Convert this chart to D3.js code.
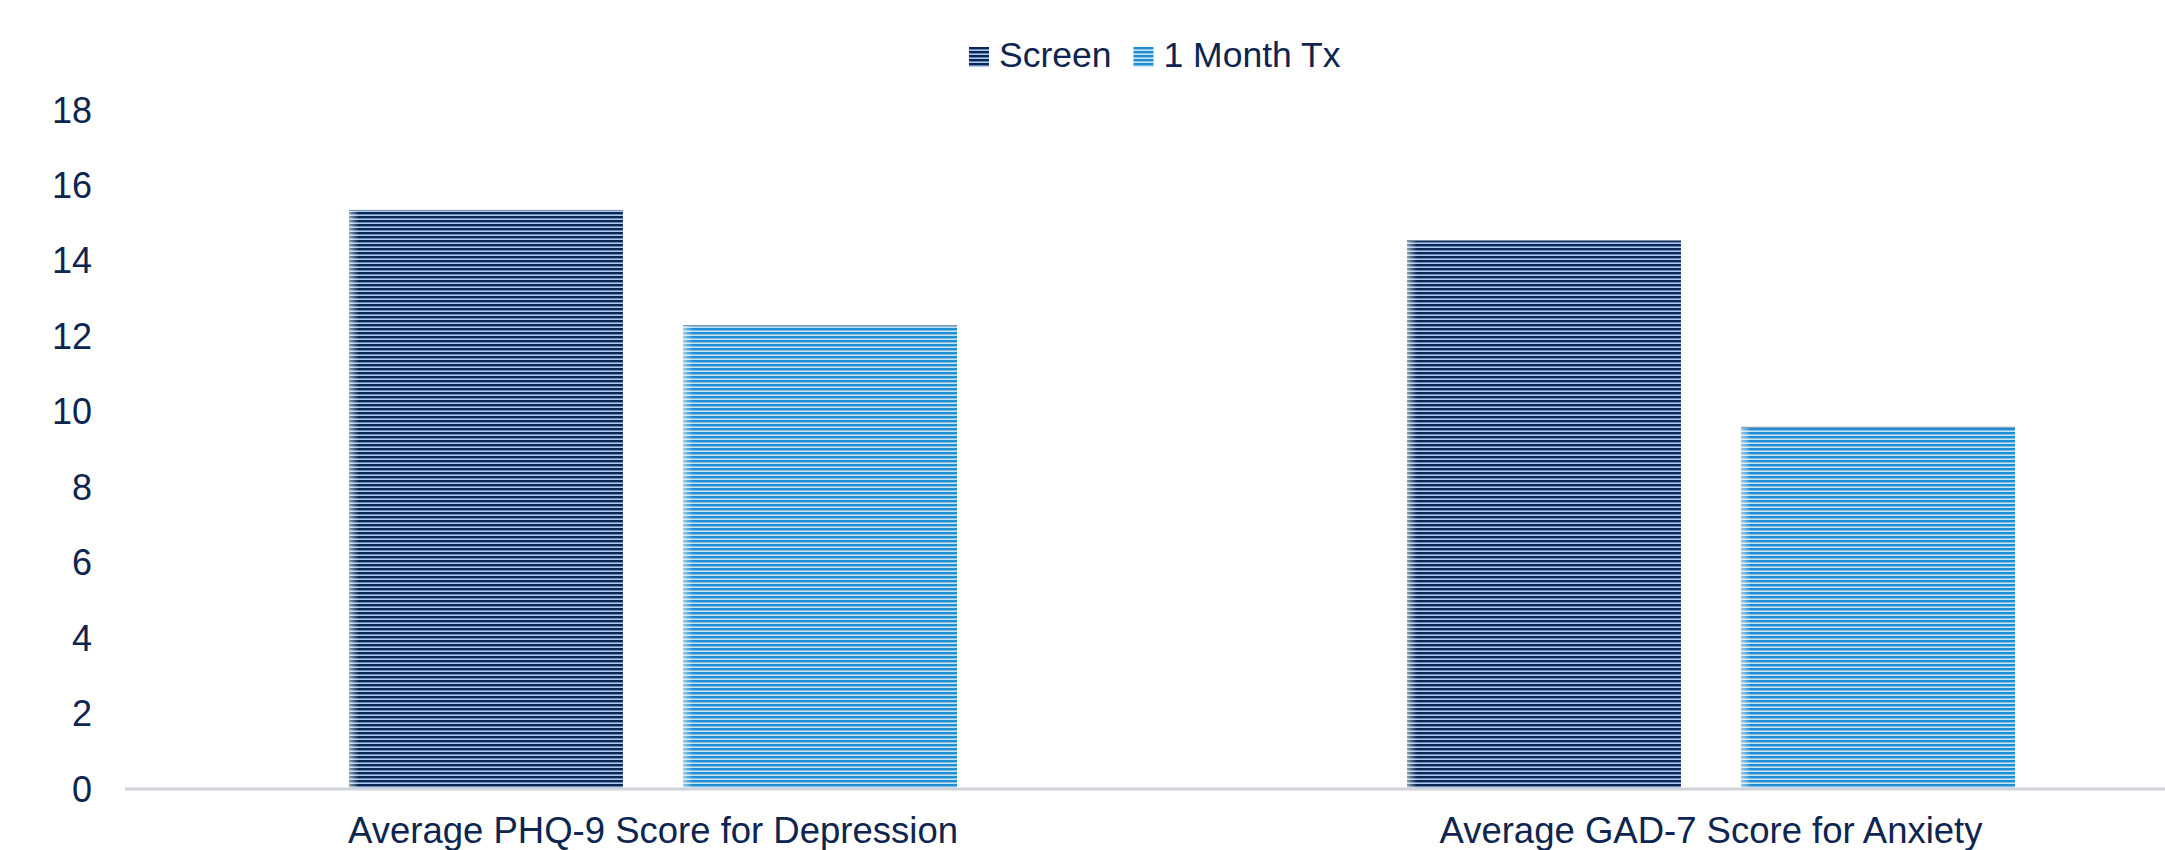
<!DOCTYPE html>
<html>
<head>
<meta charset="utf-8">
<script src="https://cdn.jsdelivr.net/npm/d3@7"></script>
<style>
  body { margin: 0; background: #fff; }
  svg { display: block; font-family: "Liberation Sans", Arial, sans-serif; }
</style>
</head>
<body>
<svg width="2165" height="850"></svg>
<script>
// chart data
var categories = ["Average PHQ-9 Score for Depression", "Average GAD-7 Score for Anxiety"];
var series = ["Screen", "1 Month Tx"];
var screenValues = [15.35, 14.55];
var txValues = [12.3, 9.6];
var yTicks = [0, 2, 4, 6, 8, 10, 12, 14, 16, 18];

var values = [screenValues, txValues];
var textColor = "#0d2550";

var svg = d3.select("svg");

// stripe patterns, one per series
var defs = svg.append("defs");
var stripes = [
  { id: "stripeScreen", dark: "#0b2652", light: "#a9c8f2" },
  { id: "stripeTx", dark: "#1f8dd1", light: "#c3e2f7" }
];
stripes.forEach(function(s) {
  var p = defs.append("pattern")
      .attr("id", s.id)
      .attr("patternUnits", "userSpaceOnUse")
      .attr("width", 8)
      .attr("height", 4);
  p.append("rect").attr("width", 8).attr("height", 4).attr("fill", s.dark);
  p.append("rect").attr("y", 2.4).attr("width", 8).attr("height", 1.6).attr("fill", s.light);
});

// left edge fade on bars
var grad = defs.append("linearGradient").attr("id", "edgeFade");
grad.append("stop").attr("offset", "0%").attr("stop-color", "#fff").attr("stop-opacity", 0.55);
grad.append("stop").attr("offset", "100%").attr("stop-color", "#fff").attr("stop-opacity", 0);

var y = d3.scaleLinear()
    .domain([0, 18])
    .range([789, 110]);

var x0 = d3.scaleBand()
    .domain(categories)
    .range([124, 2240]);

var x1 = d3.scaleBand()
    .domain(series)
    .range([225, 833])
    .paddingInner(0.18);

// y tick labels (no axis line)
svg.append("g")
    .attr("class", "y-ticks")
  .selectAll("text")
  .data(yTicks)
  .enter().append("text")
    .attr("x", 92)
    .attr("y", function(d) { return y(d); })
    .attr("dy", "0.35em")
    .attr("text-anchor", "end")
    .attr("font-size", "36px")
    .attr("fill", textColor)
    .text(function(d) { return d; });

// bars
var groups = svg.append("g")
    .attr("class", "bars")
  .selectAll("g")
  .data(categories)
  .enter().append("g")
    .attr("transform", function(d) { return "translate(" + x0(d) + ",0)"; });

var bar = groups.selectAll("g")
    .data(function(d, ci) {
      return series.map(function(s, si) { return { s: s, si: si, v: values[si][ci] }; });
    })
  .enter().append("g");

bar.append("rect")
    .attr("x", function(d) { return x1(d.s); })
    .attr("y", function(d) { return y(d.v); })
    .attr("width", x1.bandwidth())
    .attr("height", function(d) { return y(0) - y(d.v); })
    .attr("fill", function(d) { return "url(#" + stripes[d.si].id + ")"; });

bar.append("rect")
    .attr("x", function(d) { return x1(d.s); })
    .attr("y", function(d) { return y(d.v); })
    .attr("width", 10)
    .attr("height", function(d) { return y(0) - y(d.v); })
    .attr("fill", "url(#edgeFade)");

bar.append("line")
    .attr("x1", function(d) { return x1(d.s); })
    .attr("x2", function(d) { return x1(d.s) + x1.bandwidth(); })
    .attr("y1", function(d) { return y(d.v) + 0.5; })
    .attr("y2", function(d) { return y(d.v) + 0.5; })
    .attr("stroke", "#8393ad")
    .attr("stroke-width", 1);

// baseline
svg.append("line")
    .attr("x1", x0.range()[0] + 1)
    .attr("x2", 2165)
    .attr("y1", y(0))
    .attr("y2", y(0))
    .attr("stroke", "#d0d3d9")
    .attr("stroke-width", 3);

// category labels
svg.append("g")
    .attr("class", "x-labels")
  .selectAll("text")
  .data(categories)
  .enter().append("text")
    .attr("x", function(d) { return x0(d) + (x1.range()[0] + x1.range()[1]) / 2; })
    .attr("y", 843)
    .attr("text-anchor", "middle")
    .attr("font-size", "36.5px")
    .attr("fill", textColor)
    .text(function(d) { return d; });

// legend
var legend = svg.append("g")
    .attr("class", "legend")
    .attr("transform", "translate(969,47)");

var lx = 0;
series.forEach(function(s, i) {
  var item = legend.append("g").attr("transform", "translate(" + lx + ",0)");
  item.append("rect")
      .attr("width", 20)
      .attr("height", 20)
      .attr("fill", "url(#" + stripes[i].id + ")");
  var t = item.append("text")
      .attr("x", 30)
      .attr("y", 20)
      .attr("font-size", "35.5px")
      .attr("fill", textColor)
      .text(s);
  lx += 30 + t.node().getComputedTextLength() + 22;
});
</script>
</body>
</html>
